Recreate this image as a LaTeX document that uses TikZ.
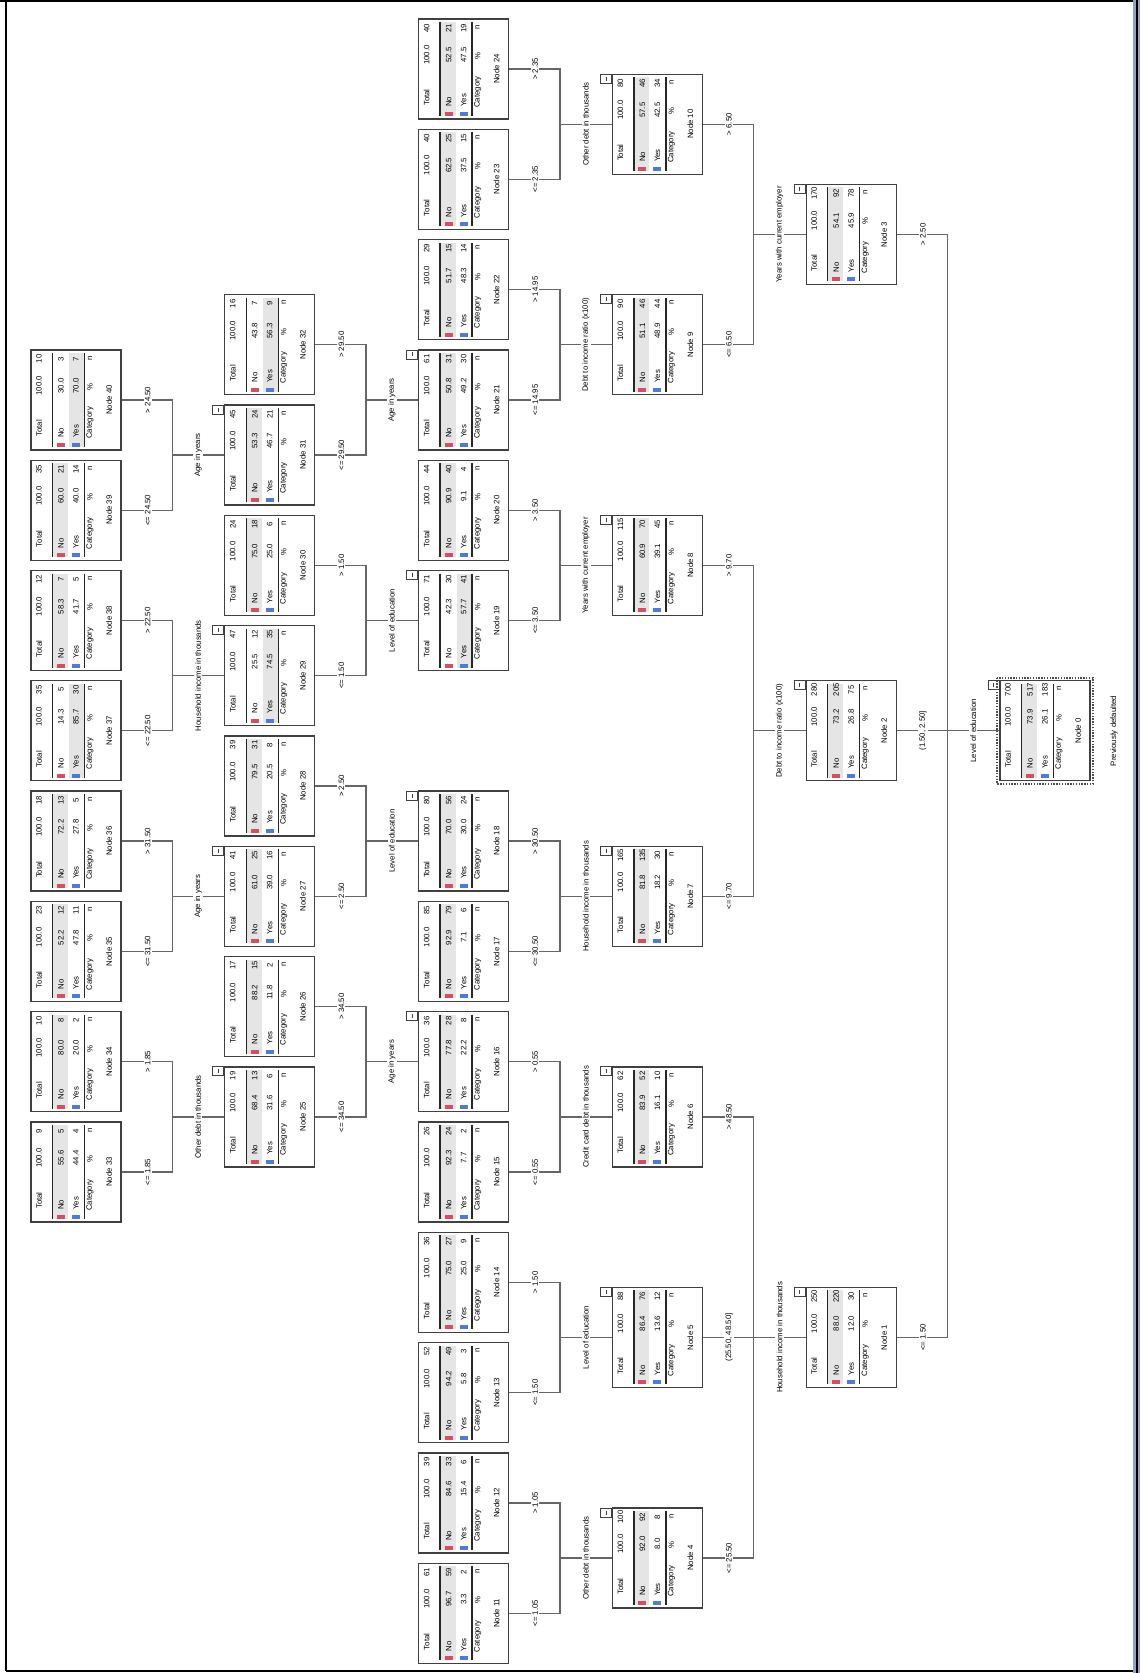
\documentclass[tikz,border=0pt]{standalone}
\usepackage{fontspec}
\setmainfont{Liberation Sans}
\definecolor{swred}{RGB}{214,78,98}
\definecolor{swblue}{RGB}{76,124,214}
\definecolor{framebar}{RGB}{150,164,184}
\tikzset{
 txt/.style={rotate=90, inner sep=0pt, font=\fontsize{7.8}{9}\selectfont},
 box/.style={draw=black!75, line width=1.3pt, minimum width=90pt, minimum height=100pt, inner sep=0pt},
 tline/.style={draw=black!85, line width=1.4pt},
 shadebg/.style={fill=black!10},
 conn/.style={draw=black!60, line width=1.3pt},
 lab/.style={rotate=90, fill=white, inner sep=1.2pt, font=\fontsize{7.8}{9}\selectfont},
 ind/.style={draw=black!75, line width=0.8pt, fill=white},
}
\newcommand\pct[1]{\pgfmathprintnumber[fixed,fixed zerofill,precision=1,assume math mode=true]{#1}}
\newcommand\TN[7]{%
 \pgfmathsetmacro\Lx{31+#2*193.8}%
 \pgfmathsetmacro\Ty{19+#3*110.3}%
 \pgfmathsetmacro\Tot{int(#5+#6)}%
 \pgfmathsetmacro\Py{#5/(#5+#6)*100}%
 \pgfmathsetmacro\Pn{#6/(#5+#6)*100}%
 \ifnum#5>#6
  \fill[shadebg] (\Lx+38,\Ty+3) rectangle (\Lx+53,\Ty+97);
 \else
  \fill[shadebg] (\Lx+22,\Ty+3) rectangle (\Lx+37,\Ty+97);
 \fi
 \node[box] (#1) at (\Lx+45,\Ty+50) {};
 \draw[tline] (\Lx+21.5,\Ty+3) -- (\Lx+21.5,\Ty+97);
 \draw[tline] (\Lx+53.5,\Ty+3) -- (\Lx+53.5,\Ty+97);
 \node[txt] at (\Lx+78,\Ty+50) {Node #4};
 \node[txt,anchor=west] at (\Lx+59,\Ty+89) {Category};
 \node[txt] at (\Lx+59,\Ty+37) {\%};
 \node[txt] at (\Lx+59,\Ty+8) {n};
 \fill[swblue] (\Lx+41,\Ty+93) rectangle (\Lx+49,\Ty+97);
 \node[txt,anchor=west] at (\Lx+45,\Ty+88) {Yes};
 \node[txt] at (\Lx+45,\Ty+36) {\pct{\Py}};
 \node[txt] at (\Lx+45,\Ty+9) {#5};
 \fill[swred] (\Lx+26,\Ty+93) rectangle (\Lx+34,\Ty+97);
 \node[txt,anchor=west] at (\Lx+30,\Ty+88) {No};
 \node[txt] at (\Lx+30,\Ty+36) {\pct{\Pn}};
 \node[txt] at (\Lx+30,\Ty+9) {#6};
 \node[txt,anchor=west] at (\Lx+8,\Ty+87) {Total};
 \node[txt] at (\Lx+8,\Ty+36) {100.0};
 \node[txt] at (\Lx+8,\Ty+9) {\Tot};
 \ifnum#7=1
  \draw[ind] (\Lx-12,\Ty) rectangle (\Lx-1,\Ty+9);
  \draw[black!75,line width=0.7pt] (\Lx-6.5,\Ty+2.5) -- (\Lx-6.5,\Ty+6.5);
 \fi
}
\newcommand\CN[2]{\draw[conn] (#1.west) -- ++(-51.9pt,0) |- (#2.east);}
\newcommand\BL[2]{\node[lab] at ([xshift=26pt]#1.east) {#2};}
\newcommand\PL[2]{\node[lab] at ([xshift=-26pt]#1.west) {#2};}
\begin{document}
\begin{tikzpicture}[x=1pt,y=-1pt]
\useasboundingbox (0,0) rectangle (1144,1673);
\fill[white] (0,0) rectangle (1144,1673);
% page frame
\fill[framebar] (1132.5,0) rectangle (1139.5,1673);
\draw[black,line width=1.1pt] (1137,0) -- (1137,1673);
\draw[black,line width=2.4pt] (0,1.2) -- (1133,1.2);
\draw[black,line width=2.2pt] (6,0) -- (6,1671);
\draw[black,line width=2.4pt] (6,1671) -- (1133,1671);
% nodes
\TN{n0}{5}{6}{0}{183}{517}{1}
\TN{n1}{4}{11.5}{1}{30}{220}{1}
\TN{n2}{4}{6}{2}{75}{205}{1}
\TN{n3}{4}{1.5}{3}{78}{92}{1}
\TN{n4}{3}{13.5}{4}{8}{92}{1}
\TN{n5}{3}{11.5}{5}{12}{76}{1}
\TN{n6}{3}{9.5}{6}{10}{52}{1}
\TN{n7}{3}{7.5}{7}{30}{135}{1}
\TN{n8}{3}{4.5}{8}{45}{70}{1}
\TN{n9}{3}{2.5}{9}{44}{46}{1}
\TN{n10}{3}{0.5}{10}{34}{46}{1}
\TN{n11}{2}{14}{11}{2}{59}{0}
\TN{n12}{2}{13}{12}{6}{33}{0}
\TN{n13}{2}{12}{13}{3}{49}{0}
\TN{n14}{2}{11}{14}{9}{27}{0}
\TN{n15}{2}{10}{15}{2}{24}{0}
\TN{n16}{2}{9}{16}{8}{28}{1}
\TN{n17}{2}{8}{17}{6}{79}{0}
\TN{n18}{2}{7}{18}{24}{56}{1}
\TN{n19}{2}{5}{19}{41}{30}{1}
\TN{n20}{2}{4}{20}{4}{40}{0}
\TN{n21}{2}{3}{21}{30}{31}{1}
\TN{n22}{2}{2}{22}{14}{15}{0}
\TN{n23}{2}{1}{23}{15}{25}{0}
\TN{n24}{2}{0}{24}{19}{21}{0}
\TN{n25}{1}{9.5}{25}{6}{13}{1}
\TN{n26}{1}{8.5}{26}{2}{15}{0}
\TN{n27}{1}{7.5}{27}{16}{25}{1}
\TN{n28}{1}{6.5}{28}{8}{31}{0}
\TN{n29}{1}{5.5}{29}{35}{12}{1}
\TN{n30}{1}{4.5}{30}{6}{18}{0}
\TN{n31}{1}{3.5}{31}{21}{24}{1}
\TN{n32}{1}{2.5}{32}{9}{7}{0}
\TN{n33}{0}{10}{33}{4}{5}{0}
\TN{n34}{0}{9}{34}{2}{8}{0}
\TN{n35}{0}{8}{35}{11}{12}{0}
\TN{n36}{0}{7}{36}{5}{13}{0}
\TN{n37}{0}{6}{37}{30}{5}{0}
\TN{n38}{0}{5}{38}{5}{7}{0}
\TN{n39}{0}{4}{39}{14}{21}{0}
\TN{n40}{0}{3}{40}{7}{3}{0}
% selection frame of root
\draw[black!70,line width=1.4pt,dash pattern=on 1.4pt off 1.4pt] (997,677.8) rectangle (1093,783.8);
\node[txt] (dep) at (1114,731) {Previously defaulted};
% connectors
\CN{n0}{n1}\CN{n0}{n2}\CN{n0}{n3}
\CN{n1}{n4}\CN{n1}{n5}\CN{n1}{n6}
\CN{n2}{n7}\CN{n2}{n8}
\CN{n3}{n9}\CN{n3}{n10}
\CN{n4}{n11}\CN{n4}{n12}
\CN{n5}{n13}\CN{n5}{n14}
\CN{n6}{n15}\CN{n6}{n16}
\CN{n7}{n17}\CN{n7}{n18}
\CN{n8}{n19}\CN{n8}{n20}
\CN{n9}{n21}\CN{n9}{n22}
\CN{n10}{n23}\CN{n10}{n24}
\CN{n16}{n25}\CN{n16}{n26}
\CN{n18}{n27}\CN{n18}{n28}
\CN{n19}{n29}\CN{n19}{n30}
\CN{n21}{n31}\CN{n21}{n32}
\CN{n25}{n33}\CN{n25}{n34}
\CN{n27}{n35}\CN{n27}{n36}
\CN{n29}{n37}\CN{n29}{n38}
\CN{n31}{n39}\CN{n31}{n40}
% predictor labels
\PL{n0}{Level of education}
\PL{n1}{Household income in thousands}
\PL{n2}{Debt to income ratio (x100)}
\PL{n3}{Years with current employer}
\PL{n4}{Other debt in thousands}
\PL{n5}{Level of education}
\PL{n6}{Credit card debt in thousands}
\PL{n7}{Household income in thousands}
\PL{n8}{Years with current employer}
\PL{n9}{Debt to income ratio (x100)}
\PL{n10}{Other debt in thousands}
\PL{n16}{Age in years}
\PL{n18}{Level of education}
\PL{n19}{Level of education}
\PL{n21}{Age in years}
\PL{n25}{Other debt in thousands}
\PL{n27}{Age in years}
\PL{n29}{Household income in thousands}
\PL{n31}{Age in years}
% branch labels
\BL{n1}{<= 1.50}\BL{n2}{(1.50, 2.50]}\BL{n3}{> 2.50}
\BL{n4}{<= 25.50}\BL{n5}{(25.50, 48.50]}\BL{n6}{> 48.50}
\BL{n7}{<= 9.70}\BL{n8}{> 9.70}
\BL{n9}{<= 6.50}\BL{n10}{> 6.50}
\BL{n11}{<= 1.05}\BL{n12}{> 1.05}
\BL{n13}{<= 1.50}\BL{n14}{> 1.50}
\BL{n15}{<= 0.55}\BL{n16}{> 0.55}
\BL{n17}{<= 30.50}\BL{n18}{> 30.50}
\BL{n19}{<= 3.50}\BL{n20}{> 3.50}
\BL{n21}{<= 14.95}\BL{n22}{> 14.95}
\BL{n23}{<= 2.35}\BL{n24}{> 2.35}
\BL{n25}{<= 34.50}\BL{n26}{> 34.50}
\BL{n27}{<= 2.50}\BL{n28}{> 2.50}
\BL{n29}{<= 1.50}\BL{n30}{> 1.50}
\BL{n31}{<= 29.50}\BL{n32}{> 29.50}
\BL{n33}{<= 1.85}\BL{n34}{> 1.85}
\BL{n35}{<= 31.50}\BL{n36}{> 31.50}
\BL{n37}{<= 22.50}\BL{n38}{> 22.50}
\BL{n39}{<= 24.50}\BL{n40}{> 24.50}
\end{tikzpicture}
\end{document}
